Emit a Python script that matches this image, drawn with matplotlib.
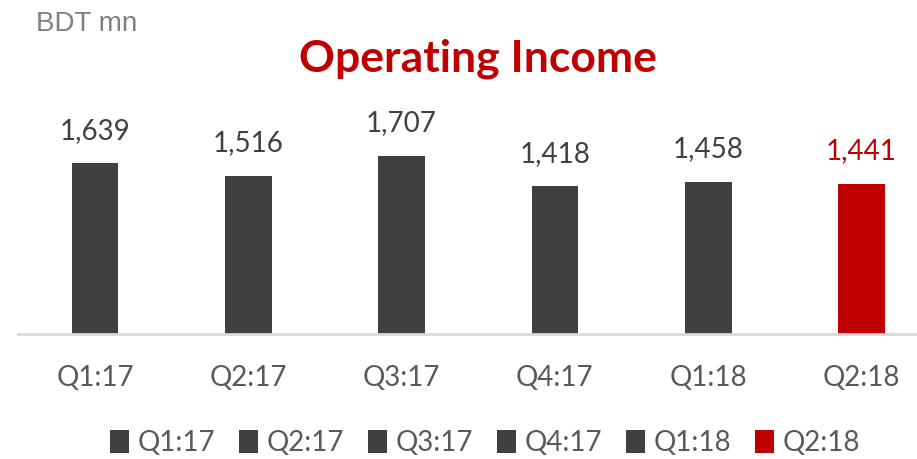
import matplotlib
matplotlib.use("Agg")
import matplotlib.pyplot as plt
from matplotlib.patches import Patch

# data
quarters = ["Q1:17", "Q2:17", "Q3:17", "Q4:17", "Q1:18", "Q2:18"]
income = [1639, 1516, 1707, 1418, 1458, 1441]
bar_colors = ["#404040", "#404040", "#404040", "#404040", "#404040", "#C00000"]
label_colors = ["#404040", "#404040", "#404040", "#404040", "#404040", "#C00000"]

plt.rcParams['font.family'] = ['Lato', 'DejaVu Sans']

fig = plt.figure(figsize=(9.17, 4.59), dpi=100)
W, H = 917, 459
ax = fig.add_axes([18 / W, 1 - 334 / H, (W - 18) / W, 234 / H])

x = list(range(len(quarters)))
ax.bar(x, income, width=0.305, color=bar_colors, zorder=2)

px_per_unit = 153.3
ax.set_xlim(-(95 - 18) / px_per_unit, (W - 95) / px_per_unit)
ax.set_ylim(0, 234 / 0.1043)

for xi, v, c in zip(x, income, label_colors):
    ax.annotate(f"{v:,}", (xi, v), xytext=(0, 14), textcoords="offset points",
                ha="center", va="bottom", fontsize=20, color=c)

for s in ["top", "right", "left"]:
    ax.spines[s].set_visible(False)
ax.spines["bottom"].set_color("#D9D9D9")
ax.spines["bottom"].set_linewidth(2)
ax.set_yticks([])
ax.set_xticks(x)
ax.set_xticklabels(quarters, fontsize=20, color="#595959")
ax.tick_params(axis="x", length=0, pad=22)

fig.text(36 / W, 1 - 24 / H, "BDT mn", fontsize=20, color="#808080",
         family="Liberation Sans", va="center", ha="left")
fig.text(478 / W, 1 - 59 / H, "Operating Income", fontsize=32, color="#C00000",
         fontweight="bold", va="center", ha="center")

handles = [Patch(facecolor=c) for c in bar_colors]
leg = fig.legend(handles, quarters, loc="center", bbox_to_anchor=(485 / W, 1 - 443 / H),
                 ncol=6, frameon=False, fontsize=20, handlelength=0.7, handleheight=0.9,
                 handletextpad=0.3, columnspacing=0.85, labelcolor="#595959")

fig.savefig("out.png", dpi=100)
